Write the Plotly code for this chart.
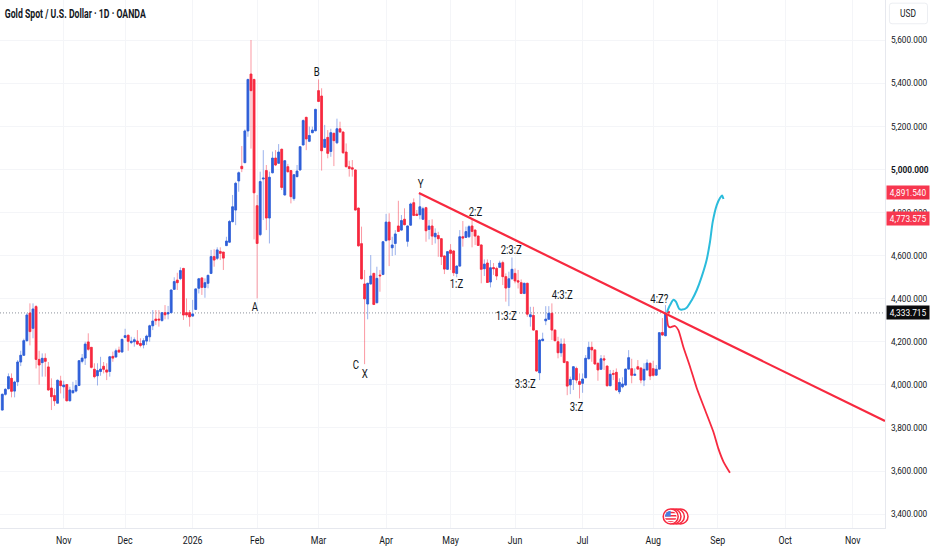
import base64
import plotly.graph_objects as go

# Candle data: one value per daily bar, prices in USD
candle_dirs = ("BBBRBBBBBR" "BRRBRRRRBR" "BRBBBBBBRR" "RBBRRBRBRB" "BRBBRRBBBB"
               "RRBRBBBRBR" "RRBBBRBBBR" "BRRBBBBBRB" "BRRRBBRBBR" "BRBRRBBBBR"
               "BBBRRBRBRB" "RRRRRRRRRB" "BRBRBBRBBR" "BRBBRRBBRB" "RBRRRBRRBB"
               "RBBRRRRBRB" "RRBRRBBRRR" "BRBRRBBBBR" "RRBRRBBRRB" "BBRRRBRRBR"
               "RBBBBRBRRB" "BRRBBRBR")
body_top = [
    3956,3979,4038,4030,4013,4106,4137,4205,4324,4333,
    4352,4363,4118,4123,4123,4083,3985,3950,4021,4018,
    3999,4001,3976,3973,3997,4112,4124,4189,4199,4174,
    4072,4066,4073,4086,4069,4130,4132,4158,4161,4211,
    4228,4230,4202,4209,4203,4192,4205,4226,4274,4296,
    4305,4305,4335,4335,4335,4440,4479,4486,4530,4540,
    4335,4335,4329,4445,4492,4496,4474,4508,4595,4595,
    4626,4619,4616,4667,4758,4826,4935,4984,5014,5178,
    5417,5442,5417,4831,4943,4959,4994,4963,5052,5052,
    5080,5093,5040,5012,4994,4975,4992,5105,5226,5241,
    5157,5182,5278,5365,5340,5139,5148,5170,5167,5188,
    5188,5173,5080,5012,5007,4997,4820,4655,4468,4471,
    4505,4517,4494,4509,4664,4755,4755,4649,4700,4737,
    4762,4768,4737,4839,4845,4792,4826,4817,4822,4737,
    4737,4703,4693,4678,4598,4618,4625,4621,4551,4687,
    4687,4711,4734,4737,4718,4690,4649,4560,4565,4543,
    4544,4540,4565,4567,4502,4492,4536,4517,4483,4474,
    4471,4471,4325,4322,4251,4208,4212,4305,4332,4332,
    4254,4200,4189,4189,4107,4025,4084,4076,4015,4027,
    4123,4174,4174,4162,4100,4121,4121,4087,4049,4053,
    4058,4011,4004,4073,4126,4075,4049,4084,4078,4072,
    4101,4100,4075,4072,4242,4243,4332,4340]
body_bot = [
    3883,3956,3982,3970,3971,4014,4106,4137,4205,4247,
    4262,4118,4092,4103,4109,3976,3945,3926,3915,3996,
    3991,3926,3926,3963,3971,3997,4109,4124,4165,4081,
    4038,4042,4062,4072,4059,4062,4124,4129,4152,4152,
    4220,4202,4196,4200,4189,4183,4185,4203,4223,4274,
    4298,4301,4298,4325,4329,4335,4443,4474,4493,4324,
    4324,4316,4319,4350,4448,4452,4452,4471,4517,4579,
    4587,4610,4588,4646,4662,4757,4811,4946,5003,5031,
    5178,5365,4891,4656,4697,4955,4774,4774,4984,5020,
    5028,4916,4881,4989,4873,4864,4966,4997,5113,5141,
    5130,5170,5179,5315,5086,5102,5074,5083,5133,5123,
    5173,5077,5012,5004,5001,4811,4645,4492,4399,4375,
    4468,4373,4381,4506,4512,4669,4672,4636,4656,4712,
    4718,4743,4666,4741,4786,4786,4789,4768,4715,4721,
    4690,4687,4678,4595,4537,4536,4610,4520,4517,4551,
    4681,4684,4687,4712,4690,4647,4536,4539,4475,4477,
    4539,4505,4545,4502,4449,4452,4492,4482,4477,4424,
    4424,4328,4316,4254,4064,4056,4205,4297,4304,4254,
    4205,4149,4149,4104,3994,4000,4025,4022,4002,4007,
    4033,4121,4162,4097,4069,4072,4115,3996,3996,4049,
    3976,3968,3991,3999,4073,4044,4044,4073,4022,4022,
    4069,4041,4044,4045,4073,4231,4228,4333.715]
highs = [
    3960,3985,4053,4053,4019,4115,4158,4214,4332,4378,
    4378,4370,4158,4146,4146,4106,4030,3982,4025,4042,
    4019,4004,3991,4014,4022,4115,4143,4200,4239,4174,
    4100,4100,4130,4106,4100,4134,4154,4168,4177,4214,
    4260,4233,4223,4220,4254,4216,4216,4233,4279,4347,
    4347,4347,4338,4370,4366,4443,4499,4520,4545,4543,
    4401,4347,4394,4448,4496,4499,4494,4511,4626,4629,
    4638,4638,4616,4687,4765,4881,4942,4990,5108,5185,
    5420,5600,5420,4881,4989,5089,5020,4989,5082,5089,
    5117,5096,5043,5025,4997,4978,5020,5108,5232,5244,
    5198,5198,5281,5417,5376,5206,5182,5188,5170,5235,
    5221,5176,5120,5040,5043,5000,4823,4734,4533,4474,
    4602,4520,4548,4533,4667,4793,4796,4687,4718,4854,
    4788,4819,4740,4845,4865,4811,4888,4826,4826,4765,
    4768,4726,4710,4681,4601,4621,4653,4625,4554,4718,
    4760,4734,4742,4772,4721,4693,4652,4582,4582,4579,
    4565,4548,4576,4576,4517,4525,4591,4540,4533,4489,
    4474,4474,4362,4362,4254,4211,4242,4365,4365,4378,
    4257,4223,4215,4215,4110,4038,4087,4084,4053,4053,
    4138,4200,4200,4165,4103,4138,4137,4090,4069,4069,
    4076,4030,4035,4076,4161,4121,4076,4115,4081,4100,
    4118,4103,4112,4092,4245,4310,4370,4345]
lows = [
    3881,3950,3979,3942,3942,3994,4087,4134,4200,4183,
    4216,4076,4001,4038,4038,3973,3883,3902,3914,3960,
    3937,3923,3923,3960,3965,3994,4100,4092,4158,4076,
    4030,3997,4042,4053,4022,4038,4107,4126,4149,4151,
    4216,4158,4189,4177,4185,4174,4169,4185,4200,4254,
    4278,4270,4294,4304,4304,4332,4440,4440,4486,4301,
    4313,4270,4316,4347,4424,4417,4404,4448,4514,4548,
    4579,4579,4533,4644,4659,4754,4741,4896,4987,5028,
    5151,5096,4675,4401,4690,4765,4718,4656,4981,5015,
    5025,4904,4878,4984,4842,4854,4963,4994,5110,5089,
    5126,5167,5176,5312,4994,5099,5051,5058,5015,5117,
    5170,5071,5009,4966,4966,4808,4641,4489,4096,4304,
    4465,4370,4378,4432,4509,4666,4551,4598,4602,4709,
    4715,4740,4641,4738,4783,4783,4768,4765,4664,4675,
    4649,4656,4594,4556,4514,4533,4533,4505,4499,4548,
    4641,4681,4681,4638,4649,4644,4471,4505,4474,4452,
    4510,4486,4542,4463,4386,4365,4489,4471,4447,4421,
    4421,4316,4270,4251,4061,4022,4202,4277,4301,4208,
    4202,4123,4130,4100,3952,3957,3976,4007,3937,3963,
    4030,4118,4107,4092,4019,4069,4069,3991,3993,4022,
    3973,3957,3984,3996,4070,4007,4041,4069,4007,3994,
    4066,4022,4038,4042,4070,4228,4225,4320]

# Axis labels (bar number where each month starts)
month_bars = [20, 40, 62, 83, 103, 125, 146, 167, 189, 212, 233, 255, 277]
month_labels = ["Nov", "Dec", "2026", "Feb", "Mar", "Apr", "May", "Jun", "Jul", "Aug", "Sep", "Oct", "Nov"]
price_ticks = [3400, 3600, 3800, 4000, 4200, 4400, 4600, 4800, 5000, 5200, 5400, 5600]

# Drawn objects on the chart
trend_bars = [135.7, 287.5]
trend_prices = [4890, 3832]
blue_path_bars = [216.5, 217.5, 218.6, 219.4, 220.5, 221.5, 222.9, 224.6, 226.2, 227.8, 229.4, 230.5, 231.4, 232.7, 233.8, 234.4, 234.9]
blue_path_prices = [4338, 4370, 4395, 4386, 4352, 4349, 4358, 4394, 4440, 4502, 4579, 4664, 4757, 4834, 4868, 4878, 4862]
red_path_bars = [216.4, 216.9, 217.5, 219.1, 220.2, 221.8, 224.0, 226.2, 228.9, 231.6, 233.2, 234.9, 237.0]
red_path_prices = [4324, 4273, 4267, 4273, 4254, 4177, 4084, 3984, 3883, 3782, 3705, 3643, 3592]

wave_labels = ["A", "B", "C", "X", "Y", "1:Z", "2:Z", "2:3:Z", "1:3:Z", "4:3:Z", "3:3:Z", "3:Z", "4:Z?"]
wave_bars = [82.3, 102.2, 115.2, 118.1, 136.4, 147.8, 154.0, 166.0, 164.1, 182.3, 170.3, 186.9, 213.9]
wave_prices = [4361, 5452, 4092, 4050, 4932, 4468, 4802, 4626, 4319, 4417, 4004, 3897, 4398]

event_bars = [220.9, 219.7, 218.6, 217.7]
event_price = 3389
tag_prices = [4891.54, 4773.575, 4333.715]
tag_colors = ["#f7374f", "#f7374f", "#0b0b0d"]

RED = "#f7293f"
BLUE = "#2f5fd8"
TEXT = "#131722"
FONT = "Roboto, sans-serif"
GRID = "#f4f5f8"
AXIS = "#e6e8ee"

bars = list(range(len(candle_dirs)))
opens = [b if d == "B" else t for d, t, b in zip(candle_dirs, body_top, body_bot)]
closes = [t if d == "B" else b for d, t, b in zip(candle_dirs, body_top, body_bot)]

fig = go.Figure()
fig.add_trace(go.Candlestick(
    x=bars, open=opens, high=highs, low=lows, close=closes, name="wicks",
    increasing=dict(line=dict(color="rgba(47,95,216,0.48)", width=1), fillcolor="rgba(47,95,216,0.48)"),
    decreasing=dict(line=dict(color="rgba(247,41,63,0.48)", width=1), fillcolor="rgba(247,41,63,0.48)"),
    hoverinfo="skip", showlegend=False))
fig.add_trace(go.Candlestick(
    x=bars, open=opens, close=closes,
    high=[max(o, c) for o, c in zip(opens, closes)],
    low=[min(o, c) for o, c in zip(opens, closes)], name="XAUUSD",
    increasing=dict(line=dict(color=BLUE, width=0.6), fillcolor=BLUE),
    decreasing=dict(line=dict(color=RED, width=0.6), fillcolor=RED),
    showlegend=False))
fig.add_trace(go.Scatter(x=trend_bars, y=trend_prices, mode="lines",
                         line=dict(color="#f7293f", width=2.2), showlegend=False))
fig.add_trace(go.Scatter(x=blue_path_bars, y=blue_path_prices, mode="lines",
                         line=dict(color="#2bbcdc", width=2, shape="spline", smoothing=0.8), showlegend=False))
fig.add_trace(go.Scatter(x=red_path_bars, y=red_path_prices, mode="lines",
                         line=dict(color="#f7293f", width=1.8, shape="spline", smoothing=0.6), showlegend=False))
fig.add_trace(go.Scatter(x=event_bars, y=[event_price] * len(event_bars), mode="markers",
                         marker=dict(size=15, color="white", line=dict(color="#f7293f", width=1.5)),
                         cliponaxis=False, showlegend=False))

flag_svg = ('<svg xmlns="http://www.w3.org/2000/svg" width="60" height="60" viewBox="0 0 60 60">'
            '<defs><clipPath id="c"><circle cx="30" cy="30" r="27"/></clipPath></defs>'
            '<g clip-path="url(#c)"><rect width="60" height="60" fill="#fff"/>'
            '<rect y="8" width="60" height="7" fill="#f7293f"/><rect y="23" width="60" height="7" fill="#f7293f"/>'
            '<rect y="38" width="60" height="7" fill="#f7293f"/><rect y="52" width="60" height="8" fill="#f7293f"/>'
            '<rect width="30" height="30" fill="#4a7fe0"/></g></svg>')
fig.add_layout_image(dict(source="data:image/svg+xml;base64," + base64.b64encode(flag_svg.encode()).decode(),
                          xref="x", yref="y", x=event_bars[-1], y=event_price, sizex=4.2, sizey=60,
                          xanchor="center", yanchor="middle", sizing="stretch", layer="above"))

# Current price line
fig.add_shape(type="line", xref="paper", x0=0, x1=1, yref="y", y0=tag_prices[2], y1=tag_prices[2],
              line=dict(color="#8d919c", width=1, dash="1px,2px"), layer="below")

for txt, b, p in zip(wave_labels, wave_bars, wave_prices):
    fig.add_annotation(x=b, y=p, text=txt, showarrow=False, font=dict(family=FONT, size=12, color=TEXT))

for p, col in zip(tag_prices, tag_colors):
    fig.add_annotation(xref="paper", x=1, xanchor="left", xshift=1, yref="y", y=p, text=f"{p:,.3f}", showarrow=False,
                       width=42, height=13, bgcolor=col, font=dict(family=FONT, size=9.5, color="white"),
                       borderpad=0, align="center")

fig.add_annotation(xref="paper", yref="paper", x=75.5 / 885, y=1, xanchor="center", yanchor="top", yshift=-5,
                   text="<b>Gold Spot / U.S. Dollar · 1D · OANDA</b>", showarrow=False,
                   font=dict(family=FONT, size=12, color=TEXT))
# USD box with rounded corners
fig.add_shape(type="path", xref="paper", yref="paper", layer="above", fillcolor="white",
              line=dict(color="#eceef2", width=1),
              path="M 1.008 0.955 L 1.045 0.955 Q 1.048 0.955 1.048 0.96 L 1.048 0.989 Q 1.048 0.994 1.045 0.994 "
                   "L 1.008 0.994 Q 1.005 0.994 1.005 0.989 L 1.005 0.96 Q 1.005 0.955 1.008 0.955 Z")
fig.add_annotation(xref="paper", yref="paper", x=1.0265, y=0.975, xanchor="center", yanchor="middle", text="USD",
                   showarrow=False, font=dict(family=FONT, size=10.5, color=TEXT))

fig.update_layout(
    width=932, height=550, margin=dict(l=0, r=47, t=0, b=22),
    paper_bgcolor="white", plot_bgcolor="white", font=dict(family=FONT, size=10.5, color=TEXT),
    showlegend=False, hovermode=False, boxgap=0.15,
    xaxis=dict(range=[-0.75, 287.5], rangeslider=dict(visible=False), tickmode="array", automargin=False,
               tickvals=month_bars, ticktext=month_labels, showgrid=True, gridcolor=GRID, gridwidth=1,
               zeroline=False, showline=True, linecolor=AXIS, ticks="outside", ticklen=2, tickcolor="rgba(0,0,0,0)",
               tickfont=dict(family=FONT, size=11, color=TEXT)),
    yaxis=dict(range=[3335.7, 5785.6], side="right", tickmode="array", tickvals=price_ticks, automargin=False,
               ticktext=[f"<b>{p:,.3f}</b>" if p == 5000 else f"{p:,.3f}" for p in price_ticks],
               showgrid=True, gridcolor=GRID, gridwidth=1, zeroline=False, showline=True, linecolor=AXIS,
               ticks="outside", ticklen=3, tickcolor="rgba(0,0,0,0)",
               tickfont=dict(family=FONT, size=9.5, color=TEXT)),
)

# The reference text is condensed; no condensed face is installed, so narrow the real text in place.
narrow_js = """
document.body.style.margin='0';document.documentElement.style.overflow='hidden';
document.querySelectorAll('.main-svg text').forEach(function(t){
  var len=t.getComputedTextLength(); if(!len) return;
  var s=t.textContent;
  var f=s.indexOf('Gold Spot')===0 ? 141/len : (/^[0-9],[0-9]{3}\\./.test(s) ? 0.87 : 0.8);
  t.setAttribute('lengthAdjust','spacingAndGlyphs');
  t.setAttribute('textLength',(len*f).toFixed(2));
});
"""
fig.write_html("out.html", config={"displayModeBar": False}, post_script=narrow_js)
